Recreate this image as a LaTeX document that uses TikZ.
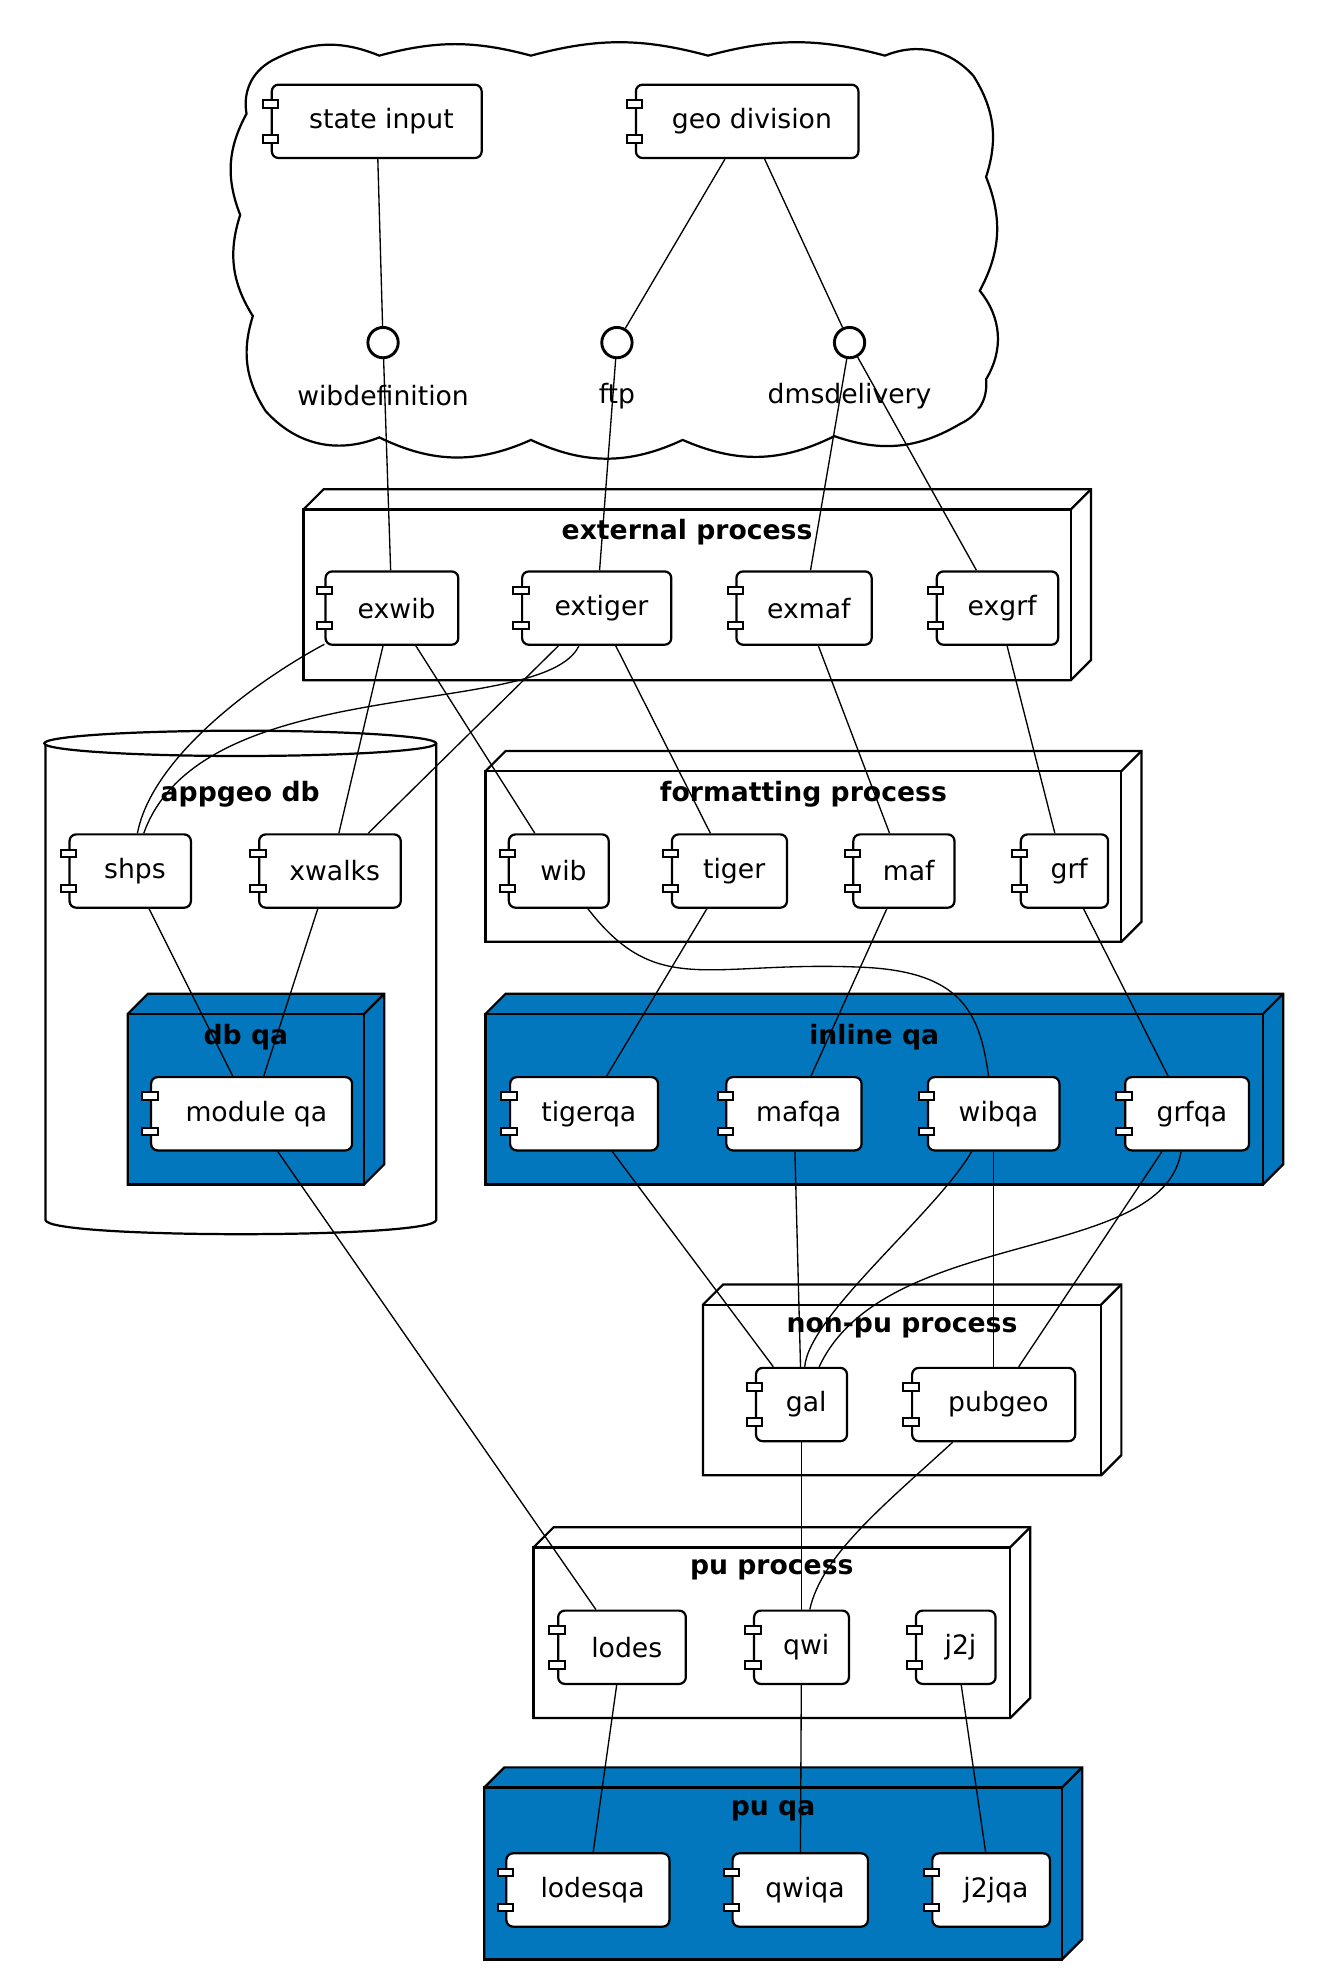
\documentclass[tikz,border=0pt]{standalone}
\usepackage{fontspec}
\setmainfont{DejaVu Sans}
\usetikzlibrary{positioning}
\definecolor{qablue}{RGB}{2, 119, 189}
\tikzset{
    font=\fontsize{12}{14}\selectfont,
    comp/.style = {rectangle, rounded corners=3pt, draw, line width=1pt, fill=white, minimum height=1.16cm, inner sep=2pt},
    tab/.style = {draw, line width=0.9pt, fill=white},
    iface/.style = {circle, draw, line width=1.3pt, fill=white, minimum size=0.48cm, inner sep=0pt},
    title/.style = {font=\fontsize{12}{14}\selectfont\bfseries},
    link/.style = {draw, semithick}
}
% component with its two tabs
\newcommand{\comp}[5]{%
  \node[comp, minimum width=#4*0.02cm] (#1) at (#2,#3) {\hspace{0.15cm}#5};
  \draw[tab] ([shift={(-6,13)}]#1.north west) rectangle +(12,6);
  \draw[tab] ([shift={(-6,-19)}]#1.south west) rectangle +(12,6);
}
% 3D node box
\newcommand{\boxnode}[7]{%
  \draw[line width=1pt, fill=#7] (#2,#3) -- (#2+16,#3-16) -- (#4+16,#3-16) -- (#4+16,#5-16) -- (#4,#5) -- (#2,#5) -- cycle;
  \draw[line width=1pt] (#2,#3) rectangle (#4,#5);
  \draw[line width=1pt] (#4,#3) -- (#4+16,#3-16);
  \node[title] (#1) at ({(#2+#4)/2},#3+18) {#6};
}
\begin{document}
\begin{tikzpicture}[x=0.02cm, y=-0.02cm]
\useasboundingbox (0,0) rectangle (1050,1567);
% cloud
\draw[line width=1pt, fill=white] (215,48) to[bend left=25] (300,44) to[bend left=15] (420,44) to[bend left=15] (560,44)
  to[bend left=15] (700,44) to[bend left=35] (770,60) to[bend left=25] (780,140) to[bend left=25] (775,230)
  to[bend left=35] (780,300) to[bend left=35] (760,335) to[bend left=25] (660,345) to[bend left=25] (540,348)
  to[bend left=25] (420,348) to[bend left=25] (300,346) to[bend left=35] (210,325) to[bend left=25] (200,250)
  to[bend left=25] (190,170) to[bend left=25] (195,90) to[bend left=35] (215,48);
% database
\draw[line width=1pt, fill=white] (36,588) -- (36,965) .. controls (36,980) and (345,980) .. (345,965) -- (345,588);
\draw[line width=1pt, fill=white] (190,588) ellipse [x radius=3.1cm, y radius=0.2cm];
\node[title] (appgeo) at (190,628) {appgeo db};
% node boxes
\boxnode{extp}{240}{403}{847}{538}{external process}{white}
\boxnode{fmtp}{384}{610}{887}{745}{formatting process}{white}
\boxnode{inqa}{384}{802}{999}{937}{inline qa}{qablue}
\boxnode{dbqa}{101}{802}{288}{937}{db qa}{qablue}
\boxnode{nonpu}{556}{1032}{871}{1167}{non-pu process}{white}
\boxnode{pup}{422}{1224}{799}{1359}{pu process}{white}
\boxnode{puqa}{383}{1414}{840}{1550}{pu qa}{qablue}
% components
\comp{stin}{298}{96}{166}{state input}
\comp{geodiv}{591}{96}{176}{geo division}
\comp{exwib}{310}{481}{105}{exwib}
\comp{extiger}{472}{481}{118}{extiger}
\comp{exmaf}{636}{481}{107}{exmaf}
\comp{exgrf}{789}{481}{96}{exgrf}
\comp{shps}{103}{689}{96}{shps}
\comp{xwalks}{261}{689}{112}{xwalks}
\comp{wib}{442}{689}{79}{wib}
\comp{tiger}{577}{689}{91}{tiger}
\comp{maf}{715}{689}{80}{maf}
\comp{grf}{842}{689}{69}{grf}
\comp{modqa}{199}{881}{159}{module qa}
\comp{tigerqa}{462}{881}{117}{tigerqa}
\comp{mafqa}{628}{881}{107}{mafqa}
\comp{wibqa}{786}{881}{104}{wibqa}
\comp{grfqa}{939}{881}{98}{grfqa}
\comp{gal}{634}{1111}{72}{gal}
\comp{pubgeo}{786}{1111}{129}{pubgeo}
\comp{lodes}{492}{1303}{101}{lodes}
\comp{qwi}{634}{1303}{75}{qwi}
\comp{j2j}{756}{1303}{63}{j2j}
\comp{lodesqa}{465}{1495}{129}{lodesqa}
\comp{qwiqa}{633}{1495}{107}{qwiqa}
\comp{j2jqa}{784}{1495}{93}{j2jqa}
% interfaces
\node[iface] (wibdef) at (303,271) {};
\node[iface] (ftp) at (488,271) {};
\node[iface] (dms) at (672,271) {};
\node (wibdeflbl) at (303,313) {wibdefinition};
\node (ftplbl) at (488,313) {ftp};
\node (dmslbl) at (672,313) {dmsdelivery};
% links
\draw[link] (stin) -- (wibdef);
\draw[link] (geodiv) -- (ftp);
\draw[link] (geodiv) -- (dms);
\draw[link] (wibdef) -- (exwib);
\draw[link] (ftp) -- (extiger);
\draw[link] (dms) -- (exmaf);
\draw[link] (dms) -- (exgrf);
\draw[link] (exwib) .. controls (200,540) and (120,600) .. (shps);
\draw[link] (extiger) .. controls (430,570) and (160,530) .. (shps);
\draw[link] (exwib) -- (xwalks);
\draw[link] (exwib) -- (wib);
\draw[link] (extiger) -- (xwalks);
\draw[link] (extiger) -- (tiger);
\draw[link] (exmaf) -- (maf);
\draw[link] (exgrf) -- (grf);
\draw[link] (shps) -- (modqa);
\draw[link] (xwalks) -- (modqa);
\draw[link] (tiger) -- (tigerqa);
\draw[link] (maf) -- (mafqa);
\draw[link] (wib) .. controls (520,790) and (560,760) .. (680,765) .. controls (760,768) and (775,800) .. (wibqa);
\draw[link] (grf) -- (grfqa);
\draw[link] (modqa) -- (lodes);
\draw[link] (tigerqa) -- (gal);
\draw[link] (mafqa) -- (gal);
\draw[link] (wibqa) .. controls (740,960) and (640,1040) .. (gal);
\draw[link] (wibqa) -- (pubgeo);
\draw[link] (grfqa) .. controls (920,1000) and (700,970) .. (gal);
\draw[link] (grfqa) -- (pubgeo);
\draw[link] (gal) -- (qwi);
\draw[link] (pubgeo) .. controls (700,1190) and (650,1230) .. (qwi);
\draw[link] (lodes) -- (lodesqa);
\draw[link] (qwi) -- (qwiqa);
\draw[link] (j2j) -- (j2jqa);
\end{tikzpicture}
\end{document}
